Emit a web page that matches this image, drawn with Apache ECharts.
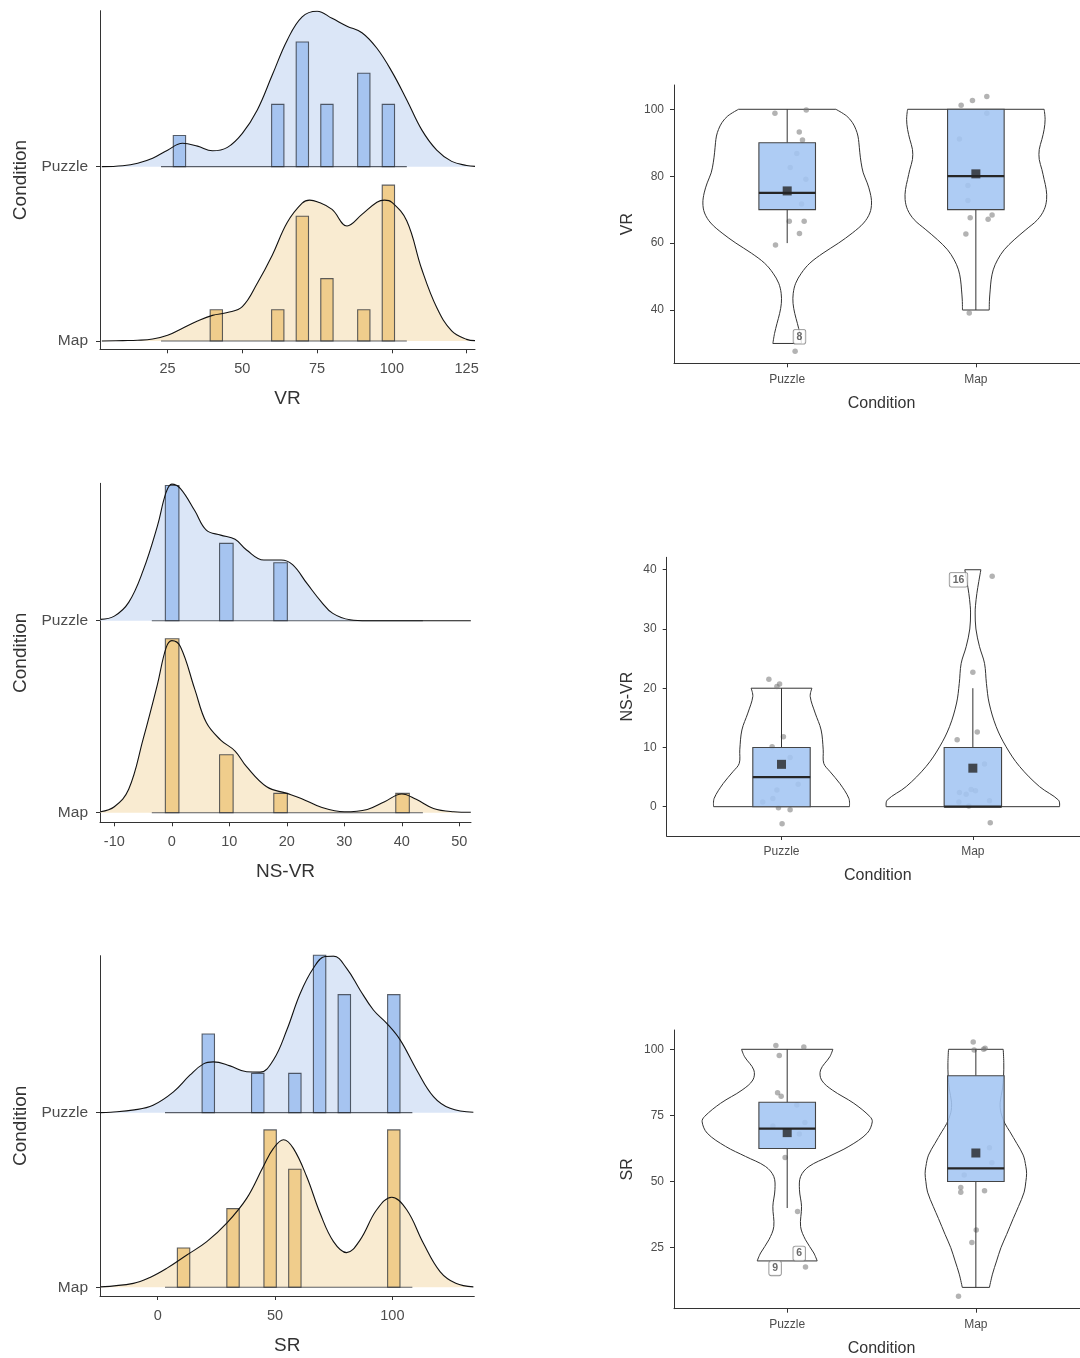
<!DOCTYPE html>
<html><head><meta charset="utf-8">
<script src="https://cdn.jsdelivr.net/npm/echarts@6/dist/echarts.min.js"></script>
<style>html,body{margin:0;padding:0;background:#fff}#c{width:1080px;height:1358px}</style>
</head><body><div id="c"></div>
<script>
// ---------- shared categories ----------
const conditions = ['Puzzle', 'Map'];
const ridgeBase = [2, 1];      // ridge baseline of each condition (left panels)
const condPos = [1, 2];        // category position of each condition (right panels)

// ---------- VR ----------
const vrTicksX = [25, 50, 75, 100, 125];
const vrBinStart = 22.8, vrBinWidth = 4.11;
const vrPuzzleCounts = [0,1,0,0,0,0,0,0,0,2,0,4,0,2,0,0,3,0,2,0];
const vrMapCounts    = [0,0,0,0,1,0,0,0,0,1,0,4,0,2,0,0,1,0,5,0];
const vrPuzzleDensX = [3,10,15,20,25,30,35,40,45,50,55,60,65,70,75,80,85,90,95,100,105,110,115,120,125,127.8];
const vrPuzzleDens  = [0,0.03,0.11,0.27,0.53,0.75,0.66,0.51,0.62,1.07,1.82,2.94,4.06,4.81,4.99,4.76,4.51,4.30,3.80,3.05,2.14,1.18,0.53,0.17,0.04,0.01];
const vrMapDensX = [3,10,15,20,25,30,35,40,45,50,55,60,65,70,72.5,75,80,85,90,95,97.5,100,105,110,115,120,125,127.8];
const vrMapDens  = [0,0.01,0.02,0.06,0.18,0.41,0.64,0.82,0.91,1.10,1.85,2.75,3.80,4.42,4.52,4.47,4.22,3.69,4.06,4.45,4.52,4.45,3.85,2.30,1.07,0.32,0.05,0.01];
const vrTicksY = [40, 60, 80, 100];
const vrPuzzleViolinV  = [100,98,96,94,92,90,87,84,81,78,75,72,69,66,63,60,57,54,51,48,45,42,39,36,33,30];
const vrPuzzleViolinHW = [0.258,0.315,0.346,0.364,0.375,0.380,0.385,0.392,0.403,0.424,0.440,0.447,0.438,0.405,0.345,0.272,0.190,0.120,0.075,0.045,0.032,0.031,0.040,0.054,0.067,0.076];
const vrMapViolinV  = [100,97,94,91,88,85,82,79,76,73,70,67,64,61,58,55,52,49,46,43,40];
const vrMapViolinHW = [0.362,0.367,0.362,0.350,0.336,0.336,0.350,0.362,0.373,0.375,0.362,0.327,0.265,0.203,0.150,0.115,0.092,0.081,0.076,0.072,0.071];
const vrBoxStats = [[60,70,75,90,100],[40,70,80,100,100]]; // low, q1, median, q3, high
const vrMeans = [75.6, 80.7];
const vrPuzzlePts = [[0.935,98.8],[1.101,99.8],[1.064,93.2],[1.081,90.8],[1.051,86.8],[1.016,82.6],[1.099,79.1],[1.076,71.7],[1.011,66.5],[1.090,66.5],[1.065,62.9],[0.938,59.4],[1.042,27.7]];
const vrMapPts = [[1.922,101.2],[1.982,102.6],[2.058,103.8],[2.058,98.8],[1.913,91.1],[1.958,77.2],[1.958,72.7],[1.970,67.6],[2.065,67.1],[2.086,68.4],[1.947,62.7],[1.965,39.1]];
const vrLabels = [[1.065,32,'8']];

// ---------- NS-VR ----------
const nsTicksX = [-10, 0, 10, 20, 30, 40, 50];
const nsBinStart = -3.48, nsBinWidth = 2.357;
const nsPuzzleCounts = [0,7,0,0,0,4,0,0,0,3,0,0,0,0,0,0,0,0,0,0];
const nsMapCounts    = [0,9,0,0,0,3,0,0,0,1,0,0,0,0,0,0,0,0,1,0];
const nsPuzzleDensX = [-12.4,-10,-7.5,-5,-2.5,-1,0,1.5,4,6,8.5,11,13,16,19,21,23.5,26,28,31,34,40,52];
const nsPuzzleDens  = [0.07,0.24,0.95,2.59,4.91,6.64,7.07,6.84,5.69,4.69,4.43,4.22,3.66,3.14,3.14,2.90,1.93,0.98,0.38,0.05,0,0,0];
const nsMapDensX = [-12.4,-10,-7.5,-5,-2.5,-1,0,1.5,4,6,8.5,11,13,16.5,20,22.5,26,30,34,37,40,42.5,45.5,49,52];
const nsMapDens  = [0.05,0.31,1.21,3.79,6.64,8.53,8.90,8.59,6.38,4.66,3.76,3.19,2.38,1.34,1.00,0.74,0.28,0.05,0.17,0.57,0.97,0.69,0.22,0.05,0.02];
const nsTicksY = [0, 10, 20, 30, 40];
const nsPuzzleViolinV  = [20,18.6,15.8,12.95,9.6,7.3,5.9,3.9,1.4,0];
const nsPuzzleViolinHW = [0.159,0.150,0.176,0.207,0.218,0.221,0.254,0.305,0.352,0.355];
const nsMapViolinV  = [40,38,36,34,32.7,30,27,24.2,20.8,17.5,13.5,10.1,6.8,3.4,1.1,0];
const nsMapViolinHW = [0.042,0.031,0.021,0.014,0.012,0.016,0.035,0.061,0.071,0.085,0.122,0.174,0.244,0.348,0.448,0.453];
const nsBoxStats = [[0,0,5,10,20],[0,0,0,10,20]];
const nsMeans = [7.15, 6.5];
const nsPuzzlePts = [[0.934,21.5],[0.976,20.3],[0.990,20.7],[1.010,11.8],[0.951,10.1],[1.045,8.3],[1.087,3.8],[0.976,2.8],[0.955,1.4],[0.902,0.8],[0.984,-0.2],[1.045,-0.5],[1.003,-2.9]];
const nsMapPts = [[2.101,38.9],[2.0,22.7],[2.023,12.6],[1.918,11.3],[2.061,7.2],[1.930,2.4],[1.965,2.1],[1.991,2.9],[2.014,2.7],[1.927,0.8],[1.979,0.1],[2.087,1.0],[2.091,-2.7]];
const nsLabels = [[1.925,38.3,'16']];

// ---------- SR ----------
const srTicksX = [0, 50, 100];
const srBinStart = 3.1, srBinWidth = 5.27;
const srPuzzleCounts = [0,0,0,2,0,0,0,1,0,0,1,0,4,0,3,0,0,0,3,0];
const srMapCounts    = [0,1,0,0,0,2,0,0,4,0,3,0,0,0,0,0,0,0,4,0];
const srPuzzleDensX = [-24.5,-20,-10,-2,6.7,13.8,19.5,23.7,30.8,37.9,43.6,49.3,55,60.7,66.3,71.3,74.9,80.5,86.2,91.9,97.6,103.3,110.4,117.5,124.6,134.5];
const srPuzzleDens  = [0,0.01,0.07,0.19,0.53,0.96,1.24,1.29,1.19,1.04,1.03,1.34,2.10,3.03,3.67,3.97,3.98,3.67,3.12,2.61,2.27,1.85,1.08,0.41,0.11,0.01];
const srMapDensX = [-24.5,-10.4,-3.3,3.8,12.4,20.9,29.4,37.9,45,49.3,53.6,57.8,63.5,69.2,74.9,80.5,86.2,93.3,99.7,106.1,113.2,120.3,127,134.5];
const srMapDens  = [0.01,0.10,0.25,0.48,0.82,1.16,1.63,2.26,3.07,3.53,3.75,3.53,2.81,1.88,1.16,0.88,1.20,1.97,2.29,1.97,1.12,0.40,0.10,0.01];
const srTicksY = [25, 50, 75, 100];
const srPuzzleViolinV  = [100,97.2,92.2,88.4,84.6,79.6,74.6,72.6,68.3,63.3,59.5,55.7,51.9,46.9,40.6,33,28,23,20];
const srPuzzleViolinHW = [0.242,0.226,0.177,0.182,0.239,0.353,0.438,0.451,0.424,0.327,0.221,0.115,0.071,0.065,0.076,0.071,0.097,0.141,0.159];
const srMapViolinV  = [100,95,90,85,80,76,72,68.9,64.4,60,55.7,53,50,46,40.6,36,30,25,20,15,10];
const srMapViolinHW = [0.145,0.148,0.147,0.141,0.129,0.133,0.154,0.180,0.217,0.251,0.265,0.269,0.265,0.256,0.226,0.198,0.163,0.133,0.110,0.088,0.072];
const srBoxStats = [[40,62.5,70,80,100],[10,50,55,90,100]];
const srMeans = [68.5, 60.8];
const srPuzzlePts = [[0.940,101.4],[1.088,100.9],[0.958,97.7],[0.949,83.6],[0.968,82.3],[1.051,78.9],[0.924,71.0],[1.094,72.3],[1.064,68.0],[0.989,59.1],[1.055,38.7],[1.097,17.7]];
const srMapPts = [[1.986,102.8],[1.991,99.7],[2.041,100.0],[2.049,100.4],[2.072,62.8],[2.085,57.1],[1.938,52.5],[1.920,47.8],[1.920,46.0],[2.046,46.5],[2.002,31.7],[1.979,27.0],[1.908,6.6]];
const srLabels = [[0.936,17.2,'9'],[1.064,22.8,'6']];

// ---------- styling ----------
const FONT = '"Liberation Sans", Arial, sans-serif';
const ridgeFill = ['#dbe6f7', '#f9ebd1'];
const barFill = ['#a6c4f0', '#f0cd8c'];
const BOX_HW = 0.15;
const AX = '#333';

const grids = [], xAxes = [], yAxes = [], series = [];

function axisBase(extra) {
  return Object.assign({
    type: 'value',
    axisLine: {show: true, onZero: false, lineStyle: {color: AX, width: 1}},
    splitLine: {show: false},
    nameLocation: 'middle'
  }, extra);
}

function addRidgePanel(p) {
  const gi = grids.length;
  grids.push({left: p.grid[0], top: p.grid[1], width: p.grid[2], height: p.grid[3], containLabel: false});
  xAxes.push(axisBase({
    gridIndex: gi, min: p.xMin, max: p.xMax, name: p.xName, nameGap: 40,
    nameTextStyle: {fontSize: 19, color: '#333', fontFamily: FONT},
    axisTick: {show: true, length: 4, customValues: p.xTicks, lineStyle: {color: AX}},
    axisLabel: {customValues: p.xTicks, fontSize: 14.5, color: '#4d4d4d', margin: 12, fontFamily: FONT}
  }));
  yAxes.push(axisBase({
    gridIndex: gi, min: p.yMin, max: p.yMax, name: 'Condition', nameGap: 70,
    nameTextStyle: {fontSize: 19, color: '#333', fontFamily: FONT},
    axisTick: {show: true, length: 4, customValues: ridgeBase, lineStyle: {color: AX}},
    axisLabel: {customValues: ridgeBase, fontSize: 15.5, color: '#4d4d4d', margin: 12, fontFamily: FONT,
      formatter: v => conditions[ridgeBase.indexOf(v)]}
  }));
  conditions.forEach((cond, c) => {
    const base = ridgeBase[c];
    const pts = p.densX[c].map((x, i) => [x, base + p.dens[c][i] * p.scale]);
    series.push({type: 'line', xAxisIndex: gi, yAxisIndex: gi, data: pts, smooth: 0.4, symbol: 'none', silent: true,
      lineStyle: {width: 0, opacity: 0}, areaStyle: {color: ridgeFill[c], opacity: 1, origin: base}, z: 1});
    const bars = [];
    p.counts[c].forEach((n, i) => { if (n > 0) bars.push([p.binStart + i * p.binWidth, p.binStart + (i + 1) * p.binWidth, n]); });
    series.push({type: 'custom', xAxisIndex: gi, yAxisIndex: gi, data: bars, silent: true, z: 2,
      encode: {x: [0, 1]},
      renderItem: (params, api) => {
        const a = api.coord([api.value(0), base]);
        const b = api.coord([api.value(1), base + api.value(2) * p.scale]);
        return {type: 'rect', shape: {x: a[0], y: b[1], width: b[0] - a[0], height: a[1] - b[1]},
          style: {fill: barFill[c], stroke: 'rgba(40,45,55,0.75)', lineWidth: 1.1}};
      }});
    series.push({type: 'line', xAxisIndex: gi, yAxisIndex: gi, silent: true, symbol: 'none', z: 2,
      data: [[p.binStart, base], [p.binStart + p.counts[c].length * p.binWidth, base]],
      lineStyle: {color: 'rgba(40,45,55,0.75)', width: 1.1}});
    series.push({type: 'line', xAxisIndex: gi, yAxisIndex: gi, data: pts, smooth: 0.4, symbol: 'none', silent: true,
      lineStyle: {color: '#111', width: 1.1}, z: 3});
  });
}

function addViolinPanel(p) {
  const gi = grids.length;
  grids.push({left: p.grid[0], top: p.grid[1], width: p.grid[2], height: p.grid[3], containLabel: false});
  xAxes.push(axisBase({
    gridIndex: gi, min: 0.4, max: p.xMax, name: 'Condition', nameGap: 32,
    nameTextStyle: {fontSize: 16, color: '#333', fontFamily: FONT, padding: [0, 0, 0, 9]},
    axisTick: {show: true, length: 4, customValues: condPos, lineStyle: {color: AX}},
    axisLabel: {customValues: condPos, fontSize: 12, color: '#4d4d4d', margin: 10, fontFamily: FONT,
      formatter: v => conditions[condPos.indexOf(v)]}
  }));
  yAxes.push(axisBase({
    gridIndex: gi, min: p.yMin, max: p.yMax, name: p.yName, nameGap: p.yNameGap,
    nameTextStyle: {fontSize: 16, color: '#333', fontFamily: FONT},
    axisTick: {show: true, length: 4, customValues: p.yTicks, lineStyle: {color: AX}},
    axisLabel: {customValues: p.yTicks, fontSize: 12, color: '#4d4d4d', margin: 10, fontFamily: FONT}
  }));
  // violins
  series.push({type: 'custom', xAxisIndex: gi, yAxisIndex: gi, silent: true, z: 1,
    data: condPos.map((x, c) => [x, p.violinV[c][0]]),
    renderItem: (params, api) => {
      const c = params.dataIndex, x0 = condPos[c], V = p.violinV[c], H = p.violinHW[c];
      const L = V.map((y, i) => api.coord([x0 - H[i], y]));
      const R = V.map((y, i) => api.coord([x0 + H[i], y]));
      const n = L.length - 1;
      const st = {stroke: '#333', lineWidth: 1, fill: null};
      return {type: 'group', children: [
        {type: 'polyline', shape: {points: L, smooth: 0.35}, style: st},
        {type: 'polyline', shape: {points: R, smooth: 0.35}, style: st},
        {type: 'line', shape: {x1: L[0][0], y1: L[0][1], x2: R[0][0], y2: R[0][1]}, style: st},
        {type: 'line', shape: {x1: L[n][0], y1: L[n][1], x2: R[n][0], y2: R[n][1]}, style: st}
      ]};
    }});
  // jittered points
  series.push({type: 'scatter', xAxisIndex: gi, yAxisIndex: gi, silent: true, z: 2,
    data: p.points[0].concat(p.points[1]), symbolSize: 5.5,
    itemStyle: {color: 'rgba(120,120,120,0.7)'}});
  // box plots
  series.push({type: 'custom', xAxisIndex: gi, yAxisIndex: gi, silent: true, z: 3,
    data: condPos.map((x, c) => [x].concat(p.box[c])),
    renderItem: (params, api) => {
      const x = api.value(0), lo = api.value(1), q1 = api.value(2), md = api.value(3), q3 = api.value(4), hi = api.value(5);
      const a = api.coord([x - BOX_HW, q3]), b = api.coord([x + BOX_HW, q1]);
      const m0 = api.coord([x - BOX_HW, md]), m1 = api.coord([x + BOX_HW, md]);
      const w1 = api.coord([x, hi]), w2 = api.coord([x, q3]), w3 = api.coord([x, q1]), w4 = api.coord([x, lo]);
      const st = {stroke: '#333', lineWidth: 1};
      return {type: 'group', children: [
        {type: 'line', shape: {x1: w1[0], y1: w1[1], x2: w2[0], y2: w2[1]}, style: st},
        {type: 'line', shape: {x1: w3[0], y1: w3[1], x2: w4[0], y2: w4[1]}, style: st},
        {type: 'rect', shape: {x: a[0], y: a[1], width: b[0] - a[0], height: b[1] - a[1]},
          style: {fill: 'rgba(163,197,242,0.88)', stroke: '#444', lineWidth: 1.1}},
        {type: 'line', shape: {x1: m0[0], y1: m0[1], x2: m1[0], y2: m1[1]}, style: {stroke: '#262626', lineWidth: 2.2}}
      ]};
    }});
  // means
  series.push({type: 'scatter', xAxisIndex: gi, yAxisIndex: gi, silent: true, z: 4,
    data: condPos.map((x, c) => [x, p.means[c]]), symbol: 'rect', symbolSize: 9,
    itemStyle: {color: '#262626'}});
  // outlier labels
  series.push({type: 'scatter', xAxisIndex: gi, yAxisIndex: gi, silent: true, z: 5,
    data: p.labels.map(d => ({value: [d[0], d[1]], name: d[2]})), symbolSize: 1,
    itemStyle: {color: 'rgba(0,0,0,0)'},
    label: {show: true, position: 'inside', formatter: d => d.name, fontSize: 10.5, fontWeight: 'bold',
      color: '#444', backgroundColor: '#fff', borderColor: '#777', borderWidth: 0.8, borderRadius: 2,
      padding: [2, 3, 1, 3], fontFamily: FONT}});
}

addRidgePanel({grid: [100, 10.7, 375, 338.6], xMin: 2.4, xMax: 127.8, yMin: 0.952, yMax: 2.895,
  xTicks: vrTicksX, xName: 'VR', scale: 0.1788, binStart: vrBinStart, binWidth: vrBinWidth,
  counts: [vrPuzzleCounts, vrMapCounts], densX: [vrPuzzleDensX, vrMapDensX], dens: [vrPuzzleDens, vrMapDens]});
addRidgePanel({grid: [100, 483.3, 371, 339], xMin: -12.49, xMax: 52.03, yMin: 0.95, yMax: 2.716,
  xTicks: nsTicksX, xName: 'NS-VR', scale: 0.1007, binStart: nsBinStart, binWidth: nsBinWidth,
  counts: [nsPuzzleCounts, nsMapCounts], densX: [nsPuzzleDensX, nsMapDensX], dens: [nsPuzzleDens, nsMapDens]});
addRidgePanel({grid: [100, 955.7, 374.3, 340.3], xMin: -24.6, xMax: 134.9, yMin: 0.95, yMax: 2.899,
  xTicks: srTicksX, xName: 'SR', scale: 0.2253, binStart: srBinStart, binWidth: srBinWidth,
  counts: [srPuzzleCounts, srMapCounts], densX: [srPuzzleDensX, srMapDensX], dens: [srPuzzleDens, srMapDens]});

// right panels run past the page edge in the reference: the grid stops at the canvas edge
addViolinPanel({grid: [674, 85, 406, 278.3], xMax: 2.552, yMin: 24.07, yMax: 107.26, yTicks: vrTicksY, yName: 'VR', yNameGap: 38,
  violinV: [vrPuzzleViolinV, vrMapViolinV], violinHW: [vrPuzzleViolinHW, vrMapViolinHW],
  box: vrBoxStats, means: vrMeans, points: [vrPuzzlePts, vrMapPts], labels: vrLabels});
addViolinPanel({grid: [666.7, 557.3, 413.3, 278.7], xMax: 2.56, yMin: -4.95, yMax: 42.1, yTicks: nsTicksY, yName: 'NS-VR', yNameGap: 31,
  violinV: [nsPuzzleViolinV, nsMapViolinV], violinHW: [nsPuzzleViolinHW, nsMapViolinHW],
  box: nsBoxStats, means: nsMeans, points: [nsPuzzlePts, nsMapPts], labels: nsLabels});
addViolinPanel({grid: [674, 1030, 406, 278.7], xMax: 2.552, yMin: 1.94, yMax: 107.3, yTicks: srTicksY, yName: 'SR', yNameGap: 38,
  violinV: [srPuzzleViolinV, srMapViolinV], violinHW: [srPuzzleViolinHW, srMapViolinHW],
  box: srBoxStats, means: srMeans, points: [srPuzzlePts, srMapPts], labels: srLabels});

const chart = echarts.init(document.getElementById('c'), null, {renderer: 'canvas', width: 1080, height: 1358});
chart.setOption({
  animation: false,
  backgroundColor: '#fff',
  textStyle: {fontFamily: FONT},
  grid: grids, xAxis: xAxes, yAxis: yAxes, series: series
});
</script>
</body></html>
